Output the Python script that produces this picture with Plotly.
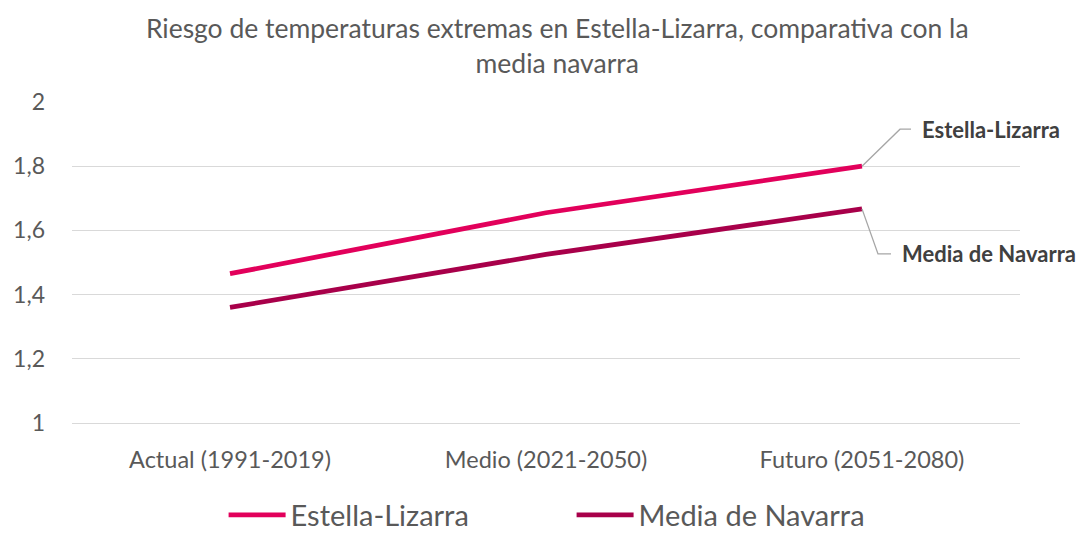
import plotly.graph_objects as go

# Categories and series values
periodos = ["Actual (1991-2019)", "Medio (2021-2050)", "Futuro (2051-2080)"]
estella = [1.465, 1.655, 1.80]
navarra = [1.36, 1.525, 1.667]
series_nombres = ["Estella-Lizarra", "Media de Navarra"]
colores = ["#E2005B", "#A8004A"]
y_ticks = [1, 1.2, 1.4, 1.6, 1.8, 2]
y_tick_text = ["1", "1,2", "1,4", "1,6", "1,8", "2"]

FONT = "Lato, 'Open Sans', sans-serif"
GRIS = "#595959"

fig = go.Figure()
for nombre, vals, col in zip(series_nombres, [estella, navarra], colores):
    fig.add_trace(go.Scatter(
        x=periodos, y=vals, name=nombre, mode="lines",
        line=dict(color=col, width=4.8),
        hoverinfo="x+y+name",
    ))

# Leader lines and end labels (offsets in pixels converted to data units)
px_x = 1 / 316.0
px_y = 1 / 320.8
ult = len(periodos) - 1
etiquetas = [
    # (value, elbow dx, elbow dy, horizontal run, label x shift)
    (estella[-1], 38, 37, 11, 58),
    (navarra[-1], 16, -45, 13, 38),
]
for (v, dx, dy, run, sx), nombre in zip(etiquetas, series_nombres):
    xe = ult + dx * px_x
    ye = v + dy * px_y
    fig.add_shape(type="path",
                  path=f"M {ult},{v} L {xe},{ye} L {xe + run * px_x},{ye}",
                  xref="x", yref="y", line=dict(color="#A6A6A6", width=1.3))
    fig.add_annotation(x=ult, y=ye, xref="x", yref="y", text=f"<b>{nombre}</b>",
                       showarrow=False, xanchor="left", yanchor="middle",
                       xshift=sx, font=dict(family=FONT, size=22, color="#404040"))

fig.update_layout(
    width=1082, height=541,
    margin=dict(l=72, r=62, t=102, b=118, autoexpand=False),
    paper_bgcolor="white", plot_bgcolor="white",
    title=dict(
        text="Riesgo de temperaturas extremas en Estella-Lizarra, comparativa con la<br>media navarra",
        x=0.515, xanchor="center", y=0.929, yanchor="top",
        font=dict(family=FONT, size=26.5, color=GRIS),
    ),
    xaxis=dict(
        type="category", range=[-0.5, 2.5],
        showgrid=False, showline=True, linecolor="#D9D9D9", linewidth=1,
        ticks="", tickfont=dict(family=FONT, size=23.5, color=GRIS),
        ticklabelstandoff=16,
    ),
    yaxis=dict(
        range=[1, 2], tickvals=y_ticks, ticktext=y_tick_text,
        showgrid=True, gridcolor="#D9D9D9", gridwidth=1.3,
        zeroline=False, showline=False, ticks="",
        tickfont=dict(family=FONT, size=23, color=GRIS),
        ticklabelstandoff=26,
    ),
    legend=dict(
        orientation="h", x=0.527, xanchor="center", y=-0.366, yanchor="bottom",
        font=dict(family=FONT, size=29, color=GRIS),
        itemwidth=57, entrywidth=276, entrywidthmode="pixels",
    ),
    showlegend=True,
)

fig.write_html("out.html")
